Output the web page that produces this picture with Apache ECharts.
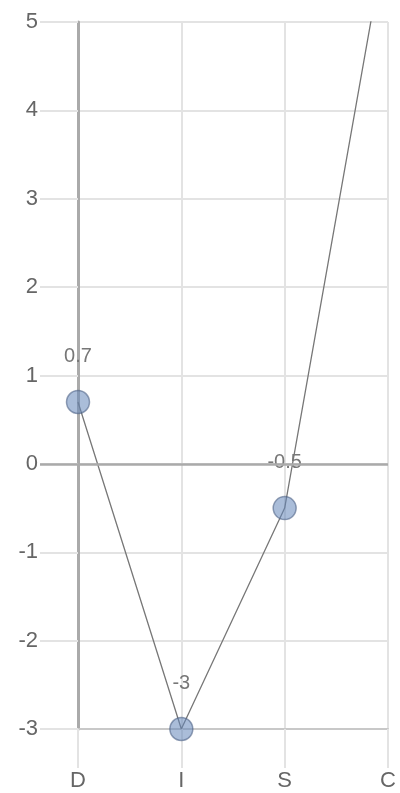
<!DOCTYPE html>
<html>
<head>
<meta charset="utf-8">
<script src="https://cdn.jsdelivr.net/npm/echarts@6/dist/echarts.min.js"></script>
<style>
  html, body { margin: 0; padding: 0; background: #fff; }
  #chart { width: 400px; height: 793px; }
</style>
</head>
<body>
<div id="chart"></div>
<script>
// DISC scores
var categories = ['D', 'I', 'S', 'C'];
var scores = [0.7, -3, -0.5, 6.1];
var yTickLabels = ['-3', '-2', '-1', '0', '1', '2', '3', '4', '5'];

var gridColor = '#e3e3e3';
var darkLine = '#aaa';

var myChart = echarts.init(document.getElementById('chart'));
var option = {
    animation: false,
    textStyle: { fontFamily: 'Liberation Sans, Arial, sans-serif' },
    grid: { left: 78, right: 12, top: 22, bottom: 64 },
    xAxis: [
        {
            type: 'category',
            data: categories,
            boundaryGap: false,
            axisLine: { onZero: false, lineStyle: { color: '#c8c8c8', width: 2 } },
            axisTick: { show: true, length: 39, lineStyle: { color: gridColor, width: 2 } },
            axisLabel: { color: '#666', fontSize: 22, margin: 41 },
            splitLine: { show: true, lineStyle: { color: gridColor, width: 2 } }
        },
        {
            // dark tick under the y axis line
            type: 'category',
            data: categories,
            boundaryGap: false,
            position: 'bottom',
            axisLine: { show: false },
            axisLabel: { show: false },
            axisTick: { show: true, length: 39, interval: function (i) { return i === 0; }, lineStyle: { color: darkLine, width: 3 } },
            splitLine: { show: false }
        }
    ],
    yAxis: [
        {
            type: 'value',
            min: -3,
            max: 5,
            interval: 1,
            axisLine: { show: true, lineStyle: { color: darkLine, width: 3 } },
            axisTick: { show: true, length: 38, lineStyle: { color: gridColor, width: 2 } },
            axisLabel: { color: '#666', fontSize: 22, margin: 40 },
            splitLine: { show: true, lineStyle: { color: gridColor, width: 2 } }
        },
        {
            // dark tick at zero
            type: 'category',
            data: yTickLabels,
            boundaryGap: false,
            position: 'left',
            axisLine: { show: false },
            axisLabel: { show: false },
            axisTick: { show: true, length: 38, interval: function (i, v) { return v === '0'; }, lineStyle: { color: darkLine, width: 2.5 } },
            splitLine: { show: false }
        }
    ],
    series: [
        {
            type: 'line',
            data: scores,
            clip: true,
            symbol: 'circle',
            symbolSize: 23,
            itemStyle: { color: 'rgba(100,135,185,0.55)', borderColor: 'rgba(80,100,135,0.6)', borderWidth: 1.5 },
            lineStyle: { color: '#777', width: 1.3 },
            label: { show: true, position: 'top', distance: 23, color: '#777', fontSize: 20 },
            markLine: {
                silent: true,
                symbol: 'none',
                label: { show: false },
                lineStyle: { color: darkLine, width: 2.5, type: 'solid' },
                data: [{ yAxis: 0 }]
            }
        }
    ]
};

myChart.setOption(option);
</script>
</body>
</html>
